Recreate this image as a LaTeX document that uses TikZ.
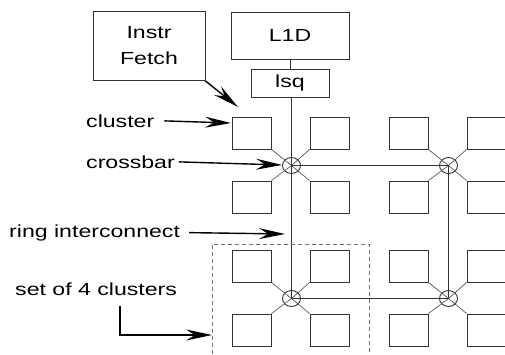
\documentclass[tikz,border=0pt]{standalone}
\usepackage{fontspec}
\setmainfont{Liberation Sans}[FakeStretch=1.32]
\usetikzlibrary{arrows.meta,shapes.geometric}
\begin{document}
\begin{tikzpicture}[x=1pt,y=-1pt,
  font=\fontsize{17.5}{26}\selectfont,
  wire/.style={draw=black!80,line width=0.9pt},
  box/.style={wire,rectangle,inner sep=0pt},
  cl/.style={box,minimum width=39pt,minimum height=32pt},
  xbar/.style={wire,ellipse,minimum width=18pt,minimum height=16pt,inner sep=0pt},
  lbl/.style={inner sep=0pt,anchor=mid west},
  arr/.style={line width=1.4pt,-{Stealth[length=26pt,width=11pt,inset=9pt]}}]
\useasboundingbox (0,0) rectangle (505,354);

% memory side
\node[box,minimum width=112pt,minimum height=69pt,align=center] (ifetch) at (149,46) {Instr\\Fetch};
\node[box,minimum width=118pt,minimum height=47pt] (l1d) at (290,35.5) {L1D};
\node[box,minimum width=78pt,minimum height=28pt] (lsq) at (290,83) {lsq};

% crossbars
\node[xbar] (x1) at (291.5,165.5) {};
\node[xbar] (x2) at (448.5,165.5) {};
\node[xbar] (x3) at (291.5,298.5) {};
\node[xbar] (x4) at (448.5,298.5) {};

% clusters: four around each crossbar
\foreach \g/\xa/\xb/\ya/\yb in {1/251.5/329.5/133/197, 2/408.5/486.5/133/197,
                                3/251.5/329.5/266/330, 4/408.5/486.5/266/330}{
  \node[cl] (c\g a) at (\xa,\ya) {};
  \node[cl] (c\g b) at (\xb,\ya) {};
  \node[cl] (c\g c) at (\xa,\yb) {};
  \node[cl] (c\g d) at (\xb,\yb) {};
  \draw[wire,draw=black!65,line width=0.7pt] (c\g a.south east) -- (x\g.center) -- (c\g d.north west);
  \draw[wire,draw=black!65,line width=0.7pt] (c\g b.south west) -- (x\g.center) -- (c\g c.north east);
}

% ring interconnect
\draw[wire] (l1d.south) -- (lsq.north);
\draw[wire] (lsq.south -| x1.center) -- (x1.center) -- (x3.center) -- (x4.center) -- (x2.center) -- (x1.center);

% set of 4 clusters outline
\coordinate (s1) at (212,354);
\coordinate (s2) at (212,244);
\coordinate (s3) at (369,244);
\coordinate (s4) at (369,354);
\draw[draw=black!55,line width=0.9pt,dash pattern=on 4pt off 3pt] (s1) -- (s2) -- (s3) -- (s4);

% labels and pointers
\node[lbl] (tcl) at (86,124.5) {cluster};
\node[lbl] (txb) at (86,165.5) {crossbar};
\node[lbl] (tri) at (9,234.5) {ring interconnect};
\node[lbl] (tset) at (15,292.5) {set of 4 clusters};

\coordinate (pcl) at (231,123);
\coordinate (pxb) at (282,165);
\coordinate (pri) at (285,234);
\coordinate (pset) at (212,335);
\coordinate (pif) at (238,107);
\coordinate (kset) at (120,335);

\draw[arr] ([xshift=10pt]tcl.east) -- (pcl);
\draw[arr] ([xshift=4pt]txb.east) -- (pxb);
\draw[arr] ([xshift=9pt]tri.east) -- (pri);
\draw[arr] ([yshift=-10pt]tset.south -| kset) -- (kset) -- (pset);
\draw[arr] (ifetch.south east) -- (pif);
\end{tikzpicture}
\end{document}
